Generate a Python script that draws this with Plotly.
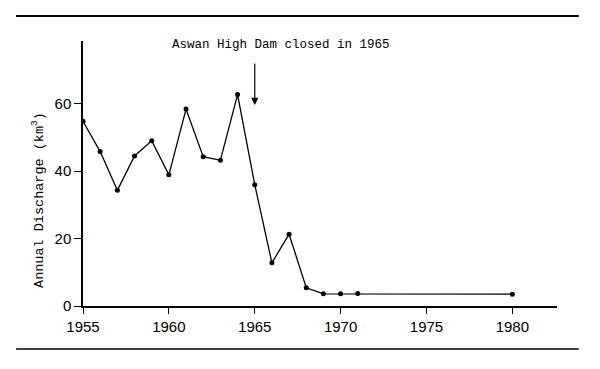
import plotly.graph_objects as go

years = [1955, 1956, 1957, 1958, 1959, 1960, 1961, 1962, 1963, 1964, 1965,
         1966, 1967, 1968, 1969, 1970, 1971, 1980]
discharge = [54.8, 45.8, 34.3, 44.5, 49.0, 38.9, 58.4, 44.3, 43.2, 62.7, 36.0,
             12.8, 21.3, 5.4, 3.6, 3.6, 3.7, 3.5]
x_ticks = [1955, 1960, 1965, 1970, 1975, 1980]
y_ticks = [0, 20, 40, 60]
dam_year = 1965
note = "Aswan High Dam closed in 1965"
y_title = "Annual Discharge (km<sup>3</sup>)"

mono = "Liberation Mono, Courier New, monospace"
narrow = "Liberation Sans Narrow, Liberation Sans, Arial, sans-serif"

fig = go.Figure()
fig.add_trace(go.Scatter(
    x=years, y=discharge, mode="lines+markers",
    line=dict(color="black", width=1.3),
    marker=dict(color="black", size=5),
    showlegend=False, hoverinfo="skip"))

fig.update_layout(
    width=600, height=369,
    margin=dict(l=83, r=43, t=41, b=63),
    paper_bgcolor="white", plot_bgcolor="white",
    xaxis=dict(range=[1955, 1982.6], tickvals=x_ticks, ticks="outside",
               ticklen=6, tickwidth=1.2, tickcolor="black",
               showline=True, linecolor="black", linewidth=2,
               showgrid=False, zeroline=False,
               tickfont=dict(family=narrow, size=15, color="black")),
    yaxis=dict(range=[0, 78.6], tickvals=y_ticks, ticks="outside",
               ticklen=7, tickwidth=1.2, tickcolor="black",
               showline=True, linecolor="black", linewidth=1.5,
               showgrid=False, zeroline=False,
               tickfont=dict(family=narrow, size=15, color="black")),
)

# horizontal rules above and below the figure
fig.add_shape(type="line", xref="paper", yref="paper",
              x0=-0.141, x1=1.046, y0=1.094, y1=1.094,
              line=dict(color="black", width=2))
fig.add_shape(type="line", xref="paper", yref="paper",
              x0=-0.141, x1=1.046, y0=-0.162, y1=-0.162,
              line=dict(color="black", width=1.5))

# arrow marking dam closure
fig.add_annotation(x=dam_year, y=59.6, xref="x", yref="y", text="",
                   showarrow=True, ax=0, ay=-43, arrowhead=2,
                   arrowsize=1.2, arrowwidth=1.2, arrowcolor="black")
fig.add_annotation(x=1966.5, y=77.4, xref="x", yref="y", text=note,
                   showarrow=False, xanchor="center", yanchor="middle",
                   font=dict(family=mono, size=12.5, color="black"))

fig.add_annotation(x=-0.095, y=0.4, xref="paper", yref="paper",
                   text=y_title, textangle=-90, showarrow=False,
                   xanchor="center", yanchor="middle",
                   font=dict(family=mono, size=13.5, color="black"))

fig.write_html("out.html")
